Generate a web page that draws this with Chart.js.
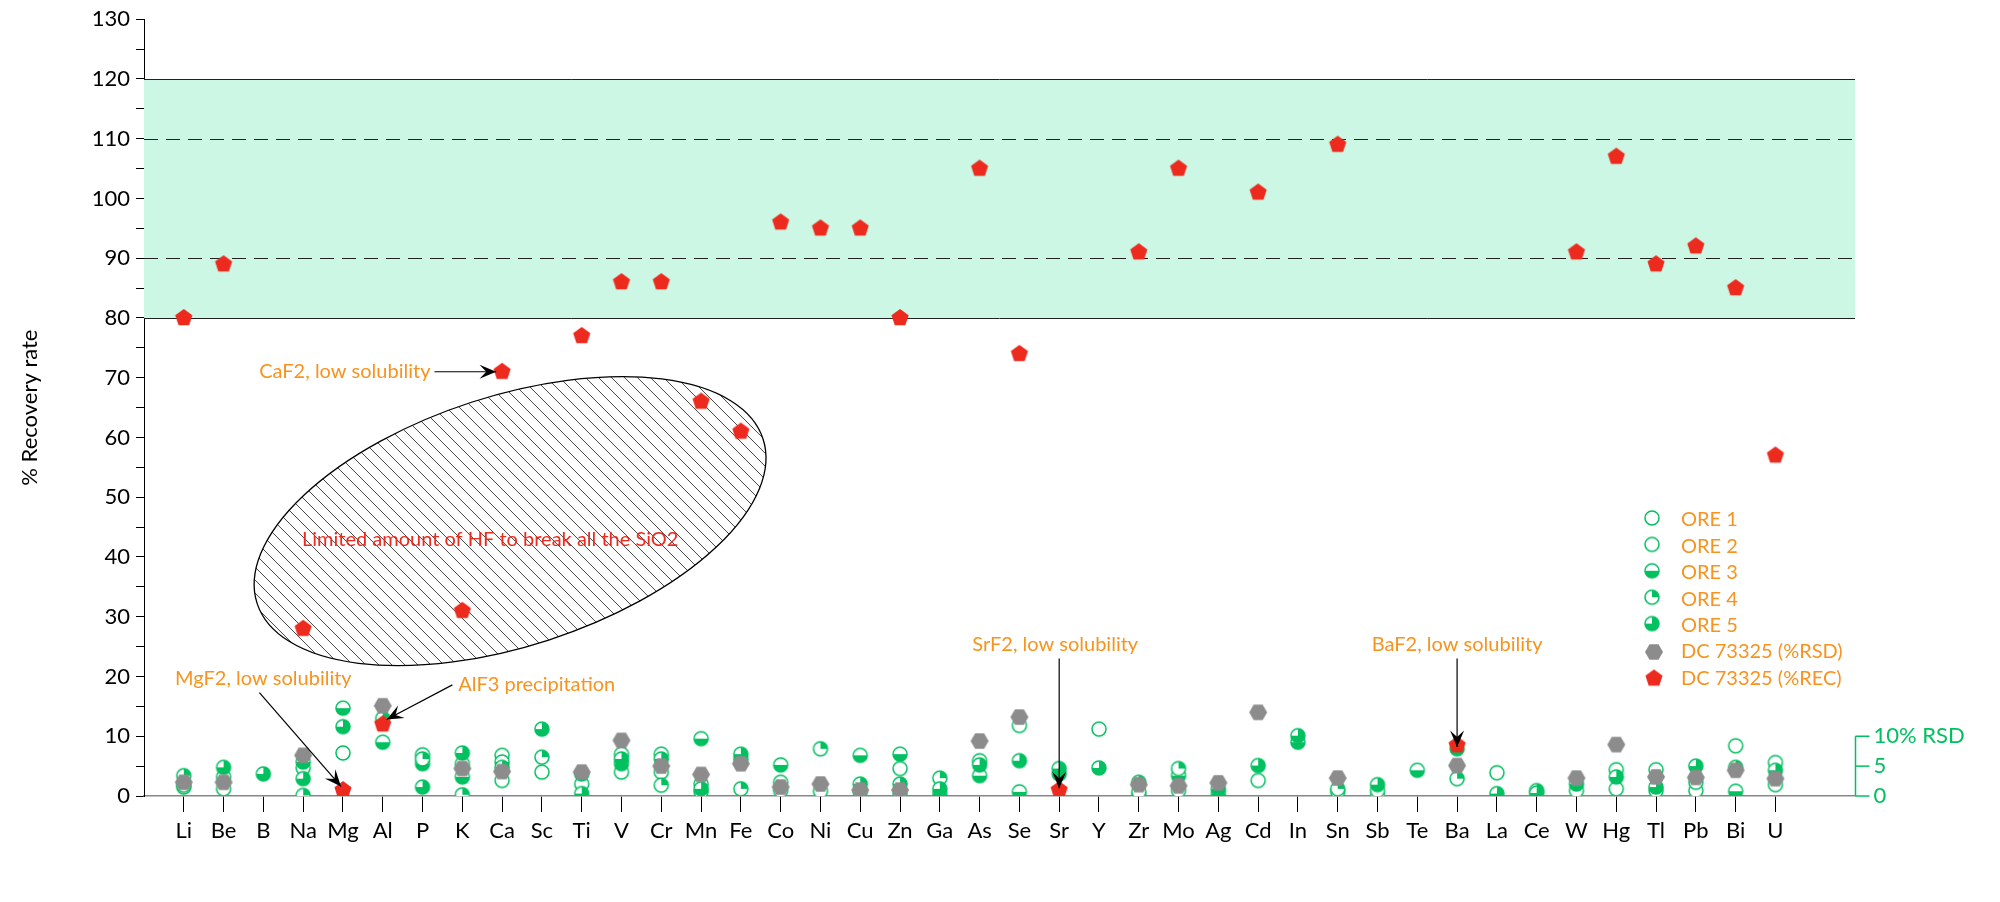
<!DOCTYPE html>
<html><head><meta charset="utf-8">
<script src="https://cdn.jsdelivr.net/npm/chart.js@4"></script>
<style>html,body{margin:0;padding:0;background:#fff}#wrap{width:2000px;height:902px}</style>
</head><body><div id="wrap"><canvas id="c"></canvas></div>
<script>
const categories = ["Li","Be","B","Na","Mg","Al","P","K","Ca","Sc","Ti","V","Cr","Mn","Fe","Co","Ni","Cu","Zn","Ga","As","Se","Sr","Y","Zr","Mo","Ag","Cd","In","Sn","Sb","Te","Ba","La","Ce","W","Hg","Tl","Pb","Bi","U"];
const recovery = [80,89,null,28,1,12,null,31,71,null,77,86,86,66,61,96,95,95,80,null,105,74,1,null,91,105,null,101,null,109,null,null,8.5,null,null,91,107,89,92,85,57];
const rsdDC   = [2.3,2.3,null,6.8,null,15.1,null,4.6,4.1,null,4,9.3,5,3.6,5.4,1.5,2,1,1,null,9.2,13.2,null,null,1.9,1.7,2.2,14,null,3,null,null,5.1,null,null,3,8.6,3.2,3.1,4.3,2.9];
const ore1 = [1.5,1.2,null,null,null,null,6.9,null,2.6,4,2,4,4,2,null,0.9,0.8,0.7,0.4,null,5.9,11.8,null,11.2,0.1,0.9,null,2.6,null,0.7,0,null,null,3.9,null,0.9,1.2,0.9,0.9,8.4,1.9];
const ore2 = [1.8,3.2,null,4.7,7.2,null,null,5.4,6.8,null,null,7,7,0.7,null,2.3,null,null,4.6,null,null,null,null,null,0.7,null,null,null,null,null,0.9,null,null,null,null,null,4.4,4.4,null,null,5.6];
const ore3 = [null,null,null,5.7,14.7,9,5.4,3.2,5.7,null,3.7,5.4,null,9.6,6.2,5.2,null,6.8,7,0.4,3.4,0.7,3.7,null,null,3.4,0.4,null,9,null,null,4.3,null,null,null,null,null,null,null,0.8,null];
const ore4 = [3.4,null,null,0.1,null,13,6.2,0.2,null,6.5,null,null,1.8,null,1.2,null,7.9,null,null,3,null,null,null,null,null,4.6,null,null,null,1.2,null,null,2.9,null,0.9,null,null,null,2.3,null,null];
const ore5 = [null,4.8,3.7,2.9,11.6,null,1.5,7.2,4.8,11.2,0.4,6.2,6.2,1.2,7,null,null,2,2,1.2,5.2,5.9,4.6,4.7,2.3,null,1.2,5.1,10.1,null,1.9,null,7.9,0.4,0.5,2,3.2,1.5,5,4.8,4.3];
const yTicks = [0,10,20,30,40,50,60,70,80,90,100,110,120,130];
const rsdTicks = [0,5,10];
const seriesNames = ["ORE 1","ORE 2","ORE 3","ORE 4","ORE 5","DC 73325 (%RSD)","DC 73325 (%REC)"];

const GREEN = '#00c060', ORANGE = '#f7931e', RED = '#ec2a1e', GRAY = '#8c8c8c';
const FONT = 'Lato, "DejaVu Sans", sans-serif';

function circleIcon(kind){
  const s=18, c=document.createElement('canvas'); c.width=s; c.height=s;
  const g=c.getContext('2d'), r=7, cx=9, cy=9;
  g.fillStyle='#fff'; g.beginPath(); g.arc(cx,cy,r,0,2*Math.PI); g.fill();
  g.fillStyle=GREEN;
  if(kind===3){ g.beginPath(); g.arc(cx,cy,r,0,Math.PI); g.closePath(); g.fill(); }
  if(kind===4){ g.beginPath(); g.moveTo(cx,cy); g.arc(cx,cy,r,-Math.PI/2,0); g.closePath(); g.fill(); }
  if(kind===5){ g.beginPath(); g.moveTo(cx,cy); g.arc(cx,cy,r,-Math.PI/2,Math.PI); g.closePath(); g.fill(); }
  g.strokeStyle=GREEN; g.lineWidth=1.5; g.beginPath(); g.arc(cx,cy,r,0,2*Math.PI); g.stroke();
  return c;
}
function polyIcon(n,color,rot,r){
  const s=22, c=document.createElement('canvas'); c.width=s; c.height=s;
  const g=c.getContext('2d'); g.fillStyle=color; g.beginPath();
  for(let i=0;i<n;i++){const a=rot+i*2*Math.PI/n; const x=11+r*Math.cos(a), y=11+r*Math.sin(a); i?g.lineTo(x,y):g.moveTo(x,y);}
  g.closePath(); g.fill(); return c;
}
const icons=[circleIcon(1),circleIcon(2),circleIcon(3),circleIcon(4),circleIcon(5),polyIcon(6,GRAY,0,9),polyIcon(5,RED,-Math.PI/2,9)];
const seriesVals=[ore1,ore2,ore3,ore4,ore5,rsdDC,recovery];

const datasets = seriesVals.map((arr,k)=>({
  label: seriesNames[k],
  data: arr.map((v,i)=>v==null?null:{x:i,y:v}).filter(p=>p),
  pointStyle: icons[k], pointRadius: 9, showLine:false, order: 10-k
}));

function arrow(g,x1,y1,x2,y2){
  g.save();
  g.strokeStyle='#000'; g.lineWidth=1.2; g.beginPath(); g.moveTo(x1,y1); g.lineTo(x2,y2); g.stroke();
  const a=Math.atan2(y2-y1,x2-x1), L=18, w=0.4;
  g.fillStyle='#000'; g.beginPath(); g.moveTo(x2,y2);
  g.lineTo(x2-L*Math.cos(a-w),y2-L*Math.sin(a-w));
  g.lineTo(x2-L*0.55*Math.cos(a),y2-L*0.55*Math.sin(a));
  g.lineTo(x2-L*Math.cos(a+w),y2-L*Math.sin(a+w)); g.closePath(); g.fill();
  g.restore();
}

const deco = {
  id:'deco',
  beforeDatasetsDraw(ch){
    const g=ch.ctx, xs=ch.scales.x, ys=ch.scales.y, a=ch.chartArea;
    g.save();
    const y80=ys.getPixelForValue(80), y120=ys.getPixelForValue(120);
    g.fillStyle='#ccf7e4'; g.fillRect(a.left,y120,a.right-a.left,y80-y120);
    g.strokeStyle='#222'; g.lineWidth=1;
    [80,120].forEach(v=>{const y=Math.round(ys.getPixelForValue(v))+0.5; g.beginPath(); g.moveTo(a.left,y); g.lineTo(a.right,y); g.stroke();});
    g.setLineDash([14,8]);
    [90,110].forEach(v=>{const y=Math.round(ys.getPixelForValue(v))+0.5; g.beginPath(); g.moveTo(a.left,y); g.lineTo(a.right,y); g.stroke();});
    g.setLineDash([]);
    const cx=xs.getPixelForValue(8.2), cy=ys.getPixelForValue(46);
    g.save(); g.translate(cx,cy); g.rotate(-18*Math.PI/180);
    g.beginPath(); g.ellipse(0,0,266,125,0,0,2*Math.PI); g.fillStyle='#fff'; g.fill(); g.clip();
    g.strokeStyle='#444'; g.lineWidth=1;
    g.rotate(18*Math.PI/180);
    for(let d=-600; d<600; d+=13){ g.beginPath(); g.moveTo(d-300,-300); g.lineTo(d+300,300); g.stroke(); }
    g.restore();
    g.save(); g.translate(cx,cy); g.rotate(-18*Math.PI/180);
    g.beginPath(); g.ellipse(0,0,266,125,0,0,2*Math.PI); g.strokeStyle='#000'; g.lineWidth=1.3; g.stroke(); g.restore();
    g.restore();
  },
  afterDatasetsDraw(ch){
    const g=ch.ctx, xs=ch.scales.x, ys=ch.scales.y, a=ch.chartArea;
    const X=v=>xs.getPixelForValue(v), Y=v=>ys.getPixelForValue(v);
    g.save();
    g.font='20px '+FONT; g.textBaseline='middle';
    g.fillStyle=ORANGE;
    g.textAlign='right'; g.fillText('CaF2, low solubility', X(6.2), Y(71));
    arrow(g,X(6.3),Y(71),X(7.85),Y(71));
    g.fillStyle=RED; g.textAlign='center'; g.fillText('Limited amount of HF to break all the SiO2', X(7.7), Y(42.9));
    g.fillStyle=ORANGE; g.fillText('MgF2, low solubility', X(2.0), Y(19.6));
    arrow(g,X(1.9),Y(17.3),X(3.95),Y(1.6));
    g.fillStyle=ORANGE; g.textAlign='left'; g.fillText('AlF3 precipitation', X(6.9), Y(18.6));
    arrow(g,X(6.75),Y(18.6),X(5.1),Y(12.8));
    g.fillStyle=ORANGE; g.textAlign='center'; g.fillText('SrF2, low solubility', X(21.9), Y(25.3));
    arrow(g,X(22),Y(23),X(22),Y(1.3));
    g.fillStyle=ORANGE; g.fillText('BaF2, low solubility', X(32), Y(25.3));
    arrow(g,X(32),Y(23),X(32),Y(8.2));
    const rx=a.right+0.5;
    g.strokeStyle=GREEN; g.lineWidth=1.5; g.beginPath(); g.moveTo(rx,Y(0)); g.lineTo(rx,Y(10)); g.stroke();
    g.fillStyle=GREEN; g.textAlign='left'; g.font='22px '+FONT;
    rsdTicks.forEach(t=>{const y=Y(t); g.beginPath(); g.moveTo(rx,y); g.lineTo(rx+14,y); g.stroke();
      g.fillText(t===10?'10% RSD':String(t), rx+18, y);});
    g.font='20px '+FONT;
    seriesNames.forEach((n,k)=>{const y=520+k*26.4; g.drawImage(icons[k],1654-11,y-11); g.fillStyle=ORANGE; g.fillText(n,1681,y);});
    g.save(); g.translate(30,(a.top+a.bottom)/2); g.rotate(-Math.PI/2); g.fillStyle='#000'; g.textAlign='center'; g.font='22px '+FONT; g.fillText('% Recovery rate',0,0); g.restore();
    g.restore();
  }
};

new Chart(document.getElementById('c'),{
  type:'scatter',
  data:{datasets},
  options:{
    responsive:true, maintainAspectRatio:false, animation:false,
    layout:{padding:{left:0,top:19,right:145,bottom:0}},
    plugins:{legend:{display:false},tooltip:{enabled:false}},
    scales:{
      x:{type:'linear',min:-1,max:42,
        afterBuildTicks(s){s.ticks=categories.map((c,i)=>({value:i}));},
        afterFit(s){s.height=106;},
        border:{color:'#888',width:1.5},
        grid:{drawOnChartArea:false,tickLength:16,color:'#000',tickColor:'#000'},
        ticks:{autoSkip:false,maxRotation:0,color:'#000',font:{size:22,family:FONT},padding:6,callback:(v)=>categories[v]??''}},
      y:{min:0,max:130,
        afterBuildTicks(s){const t=[];for(let v=0;v<=130;v+=5)t.push({value:v});s.ticks=t;},
        afterFit(s){s.width=144;},
        border:{color:'#000',width:1},
        grid:{drawOnChartArea:false,tickLength:8,color:'#000'},
        ticks:{color:'#000',font:{size:22,family:FONT},padding:6,autoSkip:false,callback:(v)=>yTicks.includes(v)?String(v):''}}
    }
  },
  plugins:[deco]
});
</script></body></html>
